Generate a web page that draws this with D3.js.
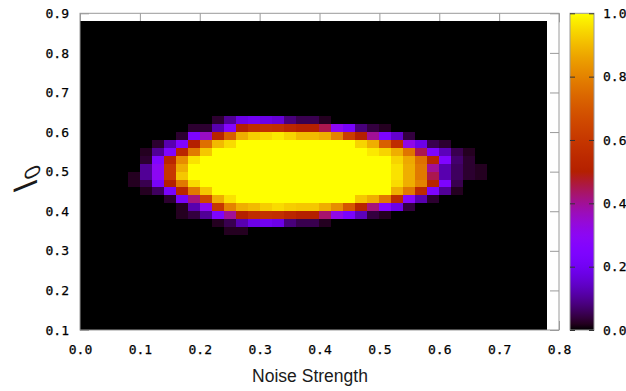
<!DOCTYPE html>
<html>
<head>
<meta charset="utf-8">
<script src="https://cdn.jsdelivr.net/npm/d3@7"></script>
<style>
  body { margin: 0; background: #fff; }
  svg text { font-family: "DejaVu Sans Mono", monospace; }
</style>
</head>
<body>
<svg id="chart" width="626" height="391"></svg>
<script>
// cell centres (noise strength on x, I0 on y, rows listed top -> bottom)
const noiseStrength = [0.01,0.03,0.05,0.07,0.09,0.11,0.13,0.15,0.17,0.19,0.21,0.23,0.25,0.27,0.29,0.31,0.33,0.35,0.37,0.39,
  0.41,0.43,0.45,0.47,0.49,0.51,0.53,0.55,0.57,0.59,0.61,0.63,0.65,0.67,0.69,0.71,0.73,0.75,0.77];
const i0Levels = [0.87,0.85,0.83,0.81,0.79,0.77,0.75,0.73,0.71,0.69,0.67,0.65,0.63,0.61,0.59,0.57,0.55,0.53,0.51,0.49,
  0.47,0.45,0.43,0.41,0.39,0.37,0.35,0.33,0.31,0.29,0.27,0.25,0.23,0.21,0.19,0.17,0.15,0.13,0.11];

const emptyRow = [0,0,0,0,0,0,0,0,0,0,0,0,0,0,0,0,0,0,0,0,0,0,0,0,0,0,0,0,0,0,0,0,0,0,0,0,0,0,0];

// fraction values, one row per I0 level (top -> bottom)
const fraction = [
  emptyRow, emptyRow, emptyRow, emptyRow, emptyRow, emptyRow,
  emptyRow, emptyRow, emptyRow, emptyRow, emptyRow, emptyRow,
  [0,0,0,0,0,0,0,0,0,0,0,.03,.1,.18,.2,.18,.16,.08,.05,.05,.02,0,0,0,0,0,0,0,0,0,0,0,0,0,0,0,0,0,0],
  [0,0,0,0,0,0,0,0,0,.03,.03,.12,.27,.5,.56,.58,.57,.53,.5,.5,.45,.3,.22,.08,.04,.02,0,0,0,0,0,0,0,0,0,0,0,0,0],
  [0,0,0,0,0,0,0,0,.03,.24,.36,.52,.72,.88,.93,.95,.97,.94,.9,.9,.88,.8,.62,.5,.4,.24,.15,.04,0,0,0,0,0,0,0,0,0,0,0],
  [0,0,0,0,0,0,.03,.12,.25,.5,.76,.9,.95,1,1,1,1,1,1,1,1,1,1,.94,.88,.72,.56,.32,.18,.05,.03,0,0,0,0,0,0,0,0],
  [0,0,0,0,0,.02,.1,.25,.53,.78,.92,1,1,1,1,1,1,1,1,1,1,1,1,1,.97,.94,.88,.77,.45,.24,.13,.05,.02,0,0,0,0,0,0],
  [0,0,0,0,0,.03,.25,.53,.82,.96,1,1,1,1,1,1,1,1,1,1,1,1,1,1,1,1,.94,.87,.76,.52,.25,.07,.03,0,0,0,0,0,0],
  [0,0,0,0,0,.1,.3,.6,.88,1,1,1,1,1,1,1,1,1,1,1,1,1,1,1,1,1,.96,.88,.78,.4,.12,.06,.03,.02,0,0,0,0,0],
  [0,0,0,0,.02,.1,.3,.6,.92,1,1,1,1,1,1,1,1,1,1,1,1,1,1,1,1,1,.96,.88,.78,.45,.12,.06,.03,.02,0,0,0,0,0],
  [0,0,0,0,.02,.05,.22,.5,.78,.95,1,1,1,1,1,1,1,1,1,1,1,1,1,1,1,1,.95,.88,.8,.52,.24,.05,0,0,0,0,0,0,0],
  [0,0,0,0,0,.02,.06,.23,.53,.78,.92,1,1,1,1,1,1,1,1,1,1,1,1,1,1,1,.88,.78,.55,.24,.1,.02,0,0,0,0,0,0,0],
  [0,0,0,0,0,0,0,.03,.22,.42,.65,.88,.96,1,1,1,1,1,1,1,1,1,1,.92,.88,.78,.55,.28,.12,.03,0,0,0,0,0,0,0,0,0],
  [0,0,0,0,0,0,0,0,.02,.12,.3,.6,.8,.88,.9,.93,.95,.93,.92,.92,.88,.82,.7,.52,.42,.27,.18,.04,0,0,0,0,0,0,0,0,0,0,0],
  [0,0,0,0,0,0,0,0,.02,.04,.1,.24,.4,.5,.56,.58,.57,.53,.5,.5,.43,.32,.23,.13,.04,.02,0,0,0,0,0,0,0,0,0,0,0,0,0],
  [0,0,0,0,0,0,0,0,0,0,0,.02,.05,.12,.18,.2,.18,.08,.05,.05,.02,0,0,0,0,0,0,0,0,0,0,0,0,0,0,0,0,0,0],
  [0,0,0,0,0,0,0,0,0,0,0,0,.02,.02,0,0,0,0,0,0,0,0,0,0,0,0,0,0,0,0,0,0,0,0,0,0,0,0,0],
  emptyRow, emptyRow, emptyRow, emptyRow, emptyRow, emptyRow,
  emptyRow, emptyRow, emptyRow, emptyRow, emptyRow, emptyRow
];

const xTicks = [0, 0.1, 0.2, 0.3, 0.4, 0.5, 0.6, 0.7, 0.8];
const yTicks = [0.1, 0.2, 0.3, 0.4, 0.5, 0.6, 0.7, 0.8, 0.9];
const cbTicks = [0, 0.2, 0.4, 0.6, 0.8, 1.0];
const cellSize = 0.02;

const svg = d3.select('#chart');
const frameColor = '#9a9a9a';
const labelColor = '#000';

const x = d3.scaleLinear().domain([0, 0.8]).range([80, 559]);
const y = d3.scaleLinear().domain([0.1, 0.9]).range([330, 13.3]);

// gnuplot default pm3d palette (rgbformulae 7,5,15)
const pm3d = t => d3.rgb(255 * Math.sqrt(t), 255 * t * t * t, 255 * Math.max(0, Math.sin(2 * Math.PI * t))).toString();
const color = d3.scaleSequential(pm3d).domain([0, 1]);

// tick marks (inward), drawn first so the map covers left/bottom ones
function styleAxis(g) {
  g.select('.domain').remove();
  g.selectAll('.tick line').attr('stroke', frameColor);
  g.selectAll('.tick text')
    .attr('fill', labelColor).attr('font-size', 13)
    .attr('stroke', labelColor).attr('stroke-width', 0.25);
}
svg.append('g').attr('transform', 'translate(0,330)')
  .call(d3.axisBottom(x).tickValues(xTicks).tickSize(-9).tickPadding(15).tickFormat(d3.format('.1f')))
  .call(styleAxis);
svg.append('g').attr('transform', 'translate(80,0)')
  .call(d3.axisLeft(y).tickValues(yTicks).tickSize(-9).tickPadding(11).tickFormat(d3.format('.1f')))
  .call(styleAxis);
svg.append('g').attr('transform', 'translate(0,13.3)')
  .call(d3.axisTop(x).tickValues(xTicks).tickSize(-9).tickFormat(''))
  .call(styleAxis);
svg.append('g').attr('transform', 'translate(559,0)')
  .call(d3.axisRight(y).tickValues(yTicks).tickSize(-9).tickFormat(''))
  .call(styleAxis);

// heat map cells, edges snapped to whole pixels so no seams show
const cells = [];
i0Levels.forEach((yv, r) => {
  noiseStrength.forEach((xv, c) => cells.push({x: xv, y: yv, v: fraction[r][c]}));
});
const px = v => Math.round(x(v));
const py = v => Math.round(y(v));
svg.append('g').attr('shape-rendering', 'crispEdges')
  .selectAll('rect')
  .data(cells)
  .join('rect')
  .attr('x', d => px(d.x - cellSize / 2))
  .attr('y', d => py(d.y + cellSize / 2))
  .attr('width', d => px(d.x + cellSize / 2) - px(d.x - cellSize / 2))
  .attr('height', d => py(d.y - cellSize / 2) - py(d.y + cellSize / 2))
  .attr('fill', d => color(d.v));

// frame
svg.append('rect')
  .attr('x', x(0)).attr('y', y(0.9))
  .attr('width', x(0.8) - x(0)).attr('height', y(0.1) - y(0.9))
  .attr('fill', 'none').attr('stroke', frameColor).attr('stroke-width', 1);

// colour box
const cb = d3.scaleLinear().domain([0, 1]).range([330, 13.3]);
const grad = svg.append('defs').append('linearGradient')
  .attr('id', 'cbgrad').attr('x1', 0).attr('y1', 1).attr('x2', 0).attr('y2', 0);
grad.selectAll('stop')
  .data(d3.range(0, 1.0001, 0.02))
  .join('stop')
  .attr('offset', d => d)
  .attr('stop-color', d => color(d));
svg.append('rect')
  .attr('x', 570).attr('y', cb(1))
  .attr('width', 24).attr('height', cb(0) - cb(1))
  .attr('fill', 'url(#cbgrad)')
  .attr('stroke', frameColor);
svg.append('g').attr('transform', 'translate(570,0)')
  .call(d3.axisRight(cb).tickValues(cbTicks).tickSize(5).tickFormat(''))
  .call(g => g.select('.domain').remove())
  .call(g => g.selectAll('.tick line').attr('stroke', '#333'));
svg.append('g').attr('transform', 'translate(594,0)')
  .call(d3.axisLeft(cb).tickValues(cbTicks).tickSize(5).tickFormat(''))
  .call(g => g.select('.domain').remove())
  .call(g => g.selectAll('.tick line').attr('stroke', '#333'));
svg.append('g').attr('transform', 'translate(594,0)')
  .call(d3.axisRight(cb).tickValues(cbTicks).tickSize(0).tickPadding(9).tickFormat(d3.format('.1f')))
  .call(styleAxis);

// axis titles
svg.append('text')
  .attr('x', 310).attr('y', 382)
  .attr('text-anchor', 'middle')
  .style('font-family', '"Liberation Sans", Arial, sans-serif')
  .attr('font-size', 17.5)
  .attr('fill', '#1a1a1a')
  .text('Noise Strength');

const ylab = svg.append('g').attr('transform', 'translate(37,186) rotate(-90)')
  .append('text')
  .attr('transform', 'skewX(22)')
  .style('font-family', '"Liberation Sans", Arial, sans-serif')
  .attr('fill', '#1a1a1a');
ylab.append('tspan').attr('font-size', 34).text('I');
ylab.append('tspan').attr('font-size', 22).attr('dy', 3).text('0');
</script>
</body>
</html>
